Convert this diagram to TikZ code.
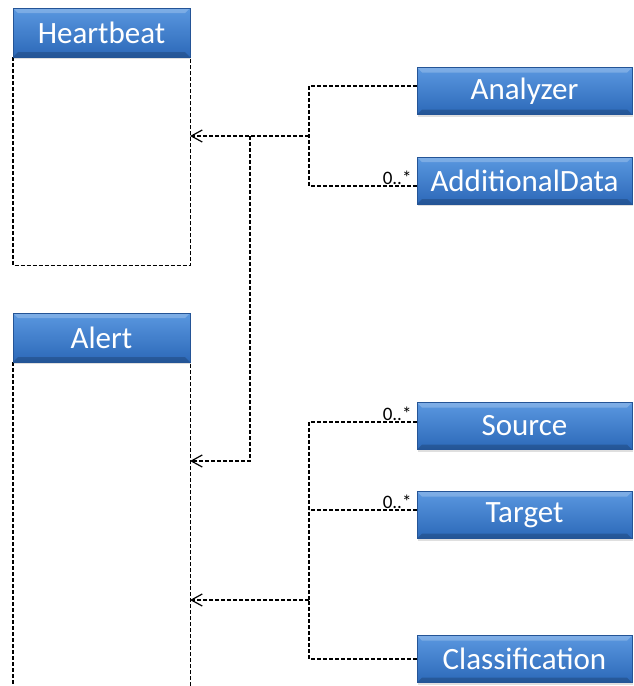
\documentclass[tikz,border=0pt]{standalone}
\usepackage{fontspec}
\setmainfont{Carlito}
\usetikzlibrary{arrows.meta,shadows}
\definecolor{hdtop}{RGB}{90,152,224}
\definecolor{hdbot}{RGB}{44,104,184}
\definecolor{hdedge}{RGB}{36,84,150}
\tikzset{
  header/.style={rectangle, top color=hdtop, bottom color=hdbot,
    draw=hdedge, line width=0.6pt, text=white, inner sep=0pt,
    font=\fontsize{31}{33}\selectfont,
    drop shadow={opacity=0.25, shadow xshift=1pt, shadow yshift=-2pt},
    path picture={
      \fill[white, opacity=0.22]
        (path picture bounding box.north west) --
        (path picture bounding box.north east) --
        ([xshift=-5pt,yshift=-5pt]path picture bounding box.north east) --
        ([xshift=5pt,yshift=-5pt]path picture bounding box.north west) -- cycle;
      \fill[black, opacity=0.18]
        (path picture bounding box.south west) --
        (path picture bounding box.south east) --
        ([xshift=-5pt,yshift=5pt]path picture bounding box.south east) --
        ([xshift=5pt,yshift=5pt]path picture bounding box.south west) -- cycle;
    }},
  classhd/.style={header, minimum width=177pt, minimum height=49pt},
  parthd/.style={header, minimum width=215pt, minimum height=47pt},
  body/.style={rectangle, inner sep=0pt, anchor=north west, minimum width=177pt},
  conn/.style={draw=black, line width=1.2pt, dash pattern=on 4pt off 2pt},
  gen/.style={conn, -{Straight Barb[length=11pt, width=12pt, line width=1.2pt]}},
  mult/.style={font=\fontsize{19}{20}\selectfont, inner sep=1pt, anchor=south east}
}
\begin{document}
\begin{tikzpicture}[x=1pt, y=-1pt]
  \useasboundingbox (0,0) rectangle (634,686);
  \clip (0,0) rectangle (634,686);

  % class bodies (dashed outlines)
  \node[body, minimum height=208pt] (hbbody) at (13,57) {};
  \node[body, minimum height=400pt] (alertbody) at (13,362) {};
  \draw[conn] (hbbody.north west) rectangle (hbbody.south east);
  \draw[conn] (alertbody.north west) rectangle (alertbody.south east);

  % class headers
  \node[classhd] (hb) at (101.5,32.5) {Heartbeat};
  \node[classhd] (alert) at (101.5,337.5) {Alert};

  % component headers
  \node[parthd] (analyzer) at (524.5,91) {Analyzer};
  \node[parthd] (adddata) at (524.5,180.5) {AdditionalData};
  \node[parthd] (source) at (524.5,426) {Source};
  \node[parthd] (target) at (524.5,515) {Target};
  \node[parthd] (classif) at (524.5,659) {Classification};

  % junction points of the connector trees
  \coordinate (busA) at (309,136);
  \coordinate (busB) at (250,136);
  \coordinate (busC) at (309,600);
  \coordinate (hbIn) at (190,136);
  \coordinate (alIn1) at (190,461);
  \coordinate (alIn2) at (190,600);

  % shared parts: Heartbeat and Alert
  \draw[conn] ([yshift=5pt]analyzer.west) -| (busA);
  \draw[conn] ([yshift=-5.5pt]adddata.west) -| (busA);
  \draw[gen] (busA) -- (hbIn);
  \draw[gen] (busB) |- (alIn1);
  \node[mult] at ([xshift=-4pt,yshift=-5.5pt]adddata.west) {0..*};

  % parts specific to Alert
  \draw[conn] ([yshift=4pt]source.west) -| (busC);
  \draw[conn] ([yshift=5pt]target.west) -- ++(-108,0);
  \draw[conn] (classif.west) -| (busC);
  \draw[gen] (busC) -- (alIn2);
  \node[mult] at ([xshift=-4pt,yshift=4pt]source.west) {0..*};
  \node[mult] at ([xshift=-4pt,yshift=5pt]target.west) {0..*};
\end{tikzpicture}
\end{document}
